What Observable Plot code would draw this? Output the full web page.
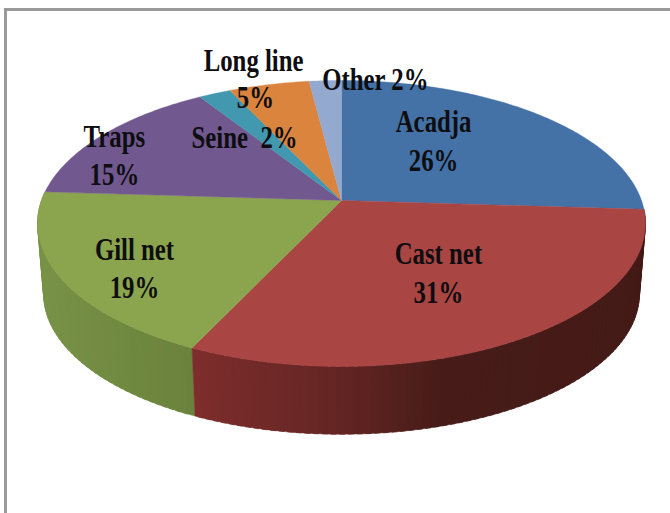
<!DOCTYPE html>
<html>
<head>
<meta charset="utf-8">
<script src="https://cdn.jsdelivr.net/npm/d3@7"></script>
<script src="https://cdn.jsdelivr.net/npm/@observablehq/plot@0.6"></script>
<style>
  html, body { margin: 0; padding: 0; background: #fff; overflow: hidden; }
  #frame {
    position: absolute; left: 4px; top: 8px; width: 663px; height: 502px;
    border-left: 3px solid #9a9a9a; border-top: 3px solid #9a9a9a;
  }
  #chart { position: absolute; left: 0; top: 0; width: 670px; height: 513px; }
  #chart svg { background: transparent; }
</style>
</head>
<body>
<div id="frame"></div>
<div id="chart"></div>
<script>
// Fishing gear shares, clockwise from twelve o'clock
const gears = ["Acadja", "Cast net", "Gill net", "Traps", "Seine", "Long line", "Other"];
const shares = [26, 31, 19, 15, 2, 5, 2];
const topColors = ["#4471a6", "#a94543", "#8aa54e", "#71588f", "#4198af", "#db843d", "#93a9cf"];

// Side-wall shades, left to right across the disc
const gillWall = { at: [-1, -0.5], shades: ["#789247", "#6a823b"] };
const castWall = { at: [-0.5, 0, 0.33, 1], shades: ["#7d2d2c", "#632523", "#471c18", "#451b17"] };

// Perspective of the tilted disc: near rim is larger than the far rim
const tilt = 0.1608;
const wallScale = 0.98;
const wallDrop = 0.51;

// Disc plane to chart units (unit circle, viewed in perspective)
function project(angle, scale = 1, drop = 0) {
  const u = Math.sin(angle), v = -Math.cos(angle);
  const d = 1 - tilt * v;
  return { x: scale * u / d, y: scale * v / d + drop };
}

const arcs = d3.pie().sort(null).value(d => d)(shares).map((a, i) => ({
  gear: gears[i], share: shares[i], color: topColors[i],
  start: a.startAngle, end: a.endAngle
}));

// Top face: one closed polygon per slice
const topFace = arcs.flatMap(a => {
  const steps = Math.max(4, Math.ceil((a.end - a.start) * 60));
  const rim = d3.range(steps + 1).map(k => project(a.start + (a.end - a.start) * k / steps));
  return [{ x: 0, y: 0 }, ...rim, { x: 0, y: 0 }].map(p => ({ ...p, id: a.gear, color: a.color }));
});

// Side wall: narrow closed quads along the near rim of the two front slices,
// each one running a little under its neighbour so no seam shows
function wallStrips(arc, wall) {
  const tone = d3.scaleLinear().domain(wall.at).range(wall.shades).clamp(true);
  const steps = Math.ceil((arc.end - arc.start) * 40);
  const step = (arc.end - arc.start) / steps;
  return d3.range(steps).flatMap(k => {
    const a0 = arc.start + step * k;
    const a1 = Math.min(arc.end, a0 + step * 1.6);
    const color = tone(project(a0 + step / 2).x);
    const id = `${arc.gear}-${k}`;
    return [project(a0), project(a1), project(a1, wallScale, wallDrop), project(a0, wallScale, wallDrop), project(a0)]
      .map(p => ({ ...p, id, color }));
  });
}
const sideWall = [...wallStrips(arcs[2], gillWall), ...wallStrips(arcs[1], castWall)];

// Label lines, placed in disc units
const share = g => `${arcs.find(a => a.gear === g).share}%`;
const labelLines = [
  { text: "Acadja", x: 0.307, y: -0.56 },
  { text: share("Acadja"), x: 0.307, y: -0.28 },
  { text: "Cast net", x: 0.323, y: 0.388 },
  { text: share("Cast net"), x: 0.323, y: 0.668 },
  { text: "Gill net", x: -0.69, y: 0.359 },
  { text: share("Gill net"), x: -0.69, y: 0.632 },
  { text: "Traps", x: -0.757, y: -0.452 },
  { text: share("Traps"), x: -0.757, y: -0.179 },
  { text: `Seine  ${share("Seine")}`, x: -0.323, y: -0.445 },
  { text: "Long line", x: -0.293, y: -0.998 },
  { text: share("Long line"), x: -0.287, y: -0.732 },
  { text: `Other ${share("Other")}`, x: 0.113, y: -0.861 }
];

const chart = Plot.plot({
  width: 670,
  height: 513,
  margin: 0,
  style: { background: "transparent" },
  x: { axis: null, domain: [-341 / 300, 329 / 300], range: [0, 670] },
  y: { axis: null, domain: [-200 / 139.3, 313 / 139.3], range: [0, 513] },
  marks: [
    Plot.line(sideWall, { x: "x", y: "y", z: "id", fill: "color", stroke: "color", strokeWidth: 0.5 }),
    Plot.line(topFace, { x: "x", y: "y", z: "id", fill: "color", stroke: "color", strokeWidth: 0.4 }),
    Plot.text(labelLines, {
      x: "x", y: "y", text: "text",
      fontFamily: "'Liberation Serif', serif",
      fontWeight: "bold",
      fontSize: 31,
      fill: "#0e0d10"
    })
  ]
});
document.getElementById("chart").appendChild(chart);

// Narrow the serif face to the tall, condensed look of the labels
chart.querySelectorAll("text").forEach(t => {
  const w = t.getComputedTextLength();
  t.setAttribute("textLength", (w * 0.8).toFixed(1));
  t.setAttribute("lengthAdjust", "spacingAndGlyphs");
});
</script>
</body>
</html>
